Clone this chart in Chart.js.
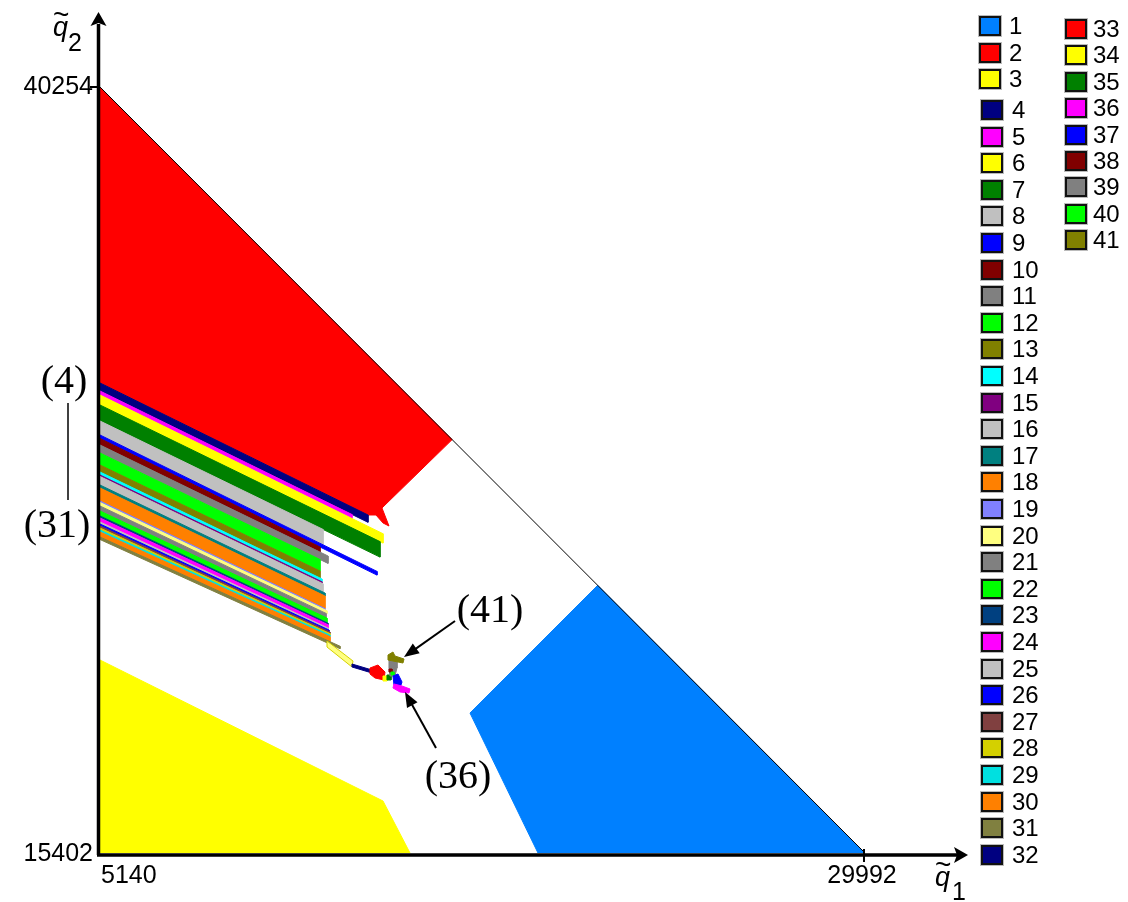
<!DOCTYPE html>
<html>
<head>
<meta charset="utf-8">
<script src="https://cdn.jsdelivr.net/npm/chart.js@4/dist/chart.umd.min.js"></script>
<style>
  body { margin: 0; background: #fff; }
  #wrap { position: relative; width: 1128px; height: 902px; }
  #legend { position: absolute; left: 0; top: 0; font-family: "Liberation Sans", Arial, sans-serif; font-size: 24px; color: #000; }
  .box { position: absolute; width: 22px; height: 20px; box-sizing: border-box; border: 2px solid #111; box-shadow: 0 0 0 1px #bbb; }
  .lab { position: absolute; height: 20px; line-height: 20px; white-space: nowrap; }
</style>
</head>
<body>
<div id="wrap">
  <canvas id="chart" width="1128" height="902"></canvas>
  <div id="legend"></div>
</div>
<script>
// axis ticks (q1 horizontal, q2 vertical)
const q1Ticks = [5140, 29992];
const q2Ticks = [15402, 40254];

// boundary q1 + q2 = 45394
const diagonal = [[5140, 40254], [29992, 15402]];

// region labels and colours (legend)
const regionLabels = ["1","2","3","4","5","6","7","8","9","10","11","12","13","14","15","16","17","18","19","20",
  "21","22","23","24","25","26","27","28","29","30","31","32","33","34","35","36","37","38","39","40","41"];
const regionColors = ["#0080FF","#FF0000","#FFFF00","#000080","#FF00FF","#FFFF00","#008000","#C0C0C0","#0000FF","#800000",
  "#808080","#00FF00","#808000","#00FFFF","#800080","#C0C0C0","#008080","#FF8000","#8080FF","#FFFF80",
  "#808080","#00FF00","#004080","#FF00FF","#C0C0C0","#0000FF","#804040","#D4D000","#00E0E0","#FF8000",
  "#808040","#000080","#FF0000","#FFFF00","#008000","#FF00FF","#0000FF","#800000","#808080","#00FF00","#808000"];

// region outlines, [q1, q2] vertices
const r1 = [[21308,24086],[29992,15402],[19369,15402],[17160,19944]];
const r2 = [[5140,40254],[16580,28814],[14301,26595],[14528,26011],[14334,26109],[14106,26368],[13846,26368],[5140,30651]];
const r3 = [[5140,21664],[14334,17089],[15211,15402],[5140,15402]];
const r4 = [[5140,30651],[13846,26368],[13846,26131],[5140,30391]];
const r5 = [[5140,30391],[13326,26384],[13326,26255],[5140,30261]];
const r6 = [[5140,30261],[14334,25761],[14334,25456],[5140,29937]];
const r7 = [[5140,29937],[14236,25505],[14236,25002],[5140,29418]];
const r8 = [[5140,29418],[12384,25901],[12384,25401],[5140,28964]];
const r9 = [[5140,28964],[14139,24538],[14139,24418],[5140,28850]];
const r10 = [[5140,28850],[12287,25330],[12287,25164],[5140,28639]];
const r11 = [[5140,28639],[12547,25038],[12547,24798],[5140,28380]];
const r12 = [[5140,28380],[12287,24924],[12287,24551],[5140,27990]];
const r13 = [[5140,27990],[12287,24551],[12287,24324],[5140,27763]];
const r14 = [[5140,27763],[12352,24292],[12352,24201],[5140,27666]];
const r15 = [[5140,27666],[12352,24201],[12352,24152],[5140,27617]];
const r16 = [[5140,27617],[12384,24136],[12384,23870],[5140,27341]];
const r17 = [[5140,27341],[12449,23837],[12449,23740],[5140,27244]];
const r18 = [[5140,27244],[12449,23740],[12449,23331],[5140,26822]];
const r19 = [[5140,26822],[12449,23331],[12449,23292],[5140,26774]];
const r20 = [[5140,26774],[12514,23260],[12514,23163],[5140,26660]];
const r20b = [[12514,22280],[13359,21631],[13326,21437],[12514,22085]];
const r21 = [[5140,26660],[12482,23176],[12482,23036],[5140,26498]];
const r22 = [[5140,26498],[12514,23023],[12514,22874],[5140,26336]];
const r23 = [[5140,26336],[12547,22858],[12547,22809],[5140,26271]];
const r24 = [[5140,26271],[12547,22809],[12547,22702],[5140,26141]];
const r25 = [[5140,26141],[12547,22702],[12547,22650],[5140,26076]];
const r26 = [[5140,26076],[12579,22637],[12579,22585],[5140,26011]];
const r27 = [[5140,26011],[12612,22572],[12612,22520],[5140,25946]];
const r28 = [[5140,25946],[12612,22520],[12612,22471],[5140,25881]];
const r29 = [[5140,25881],[12612,22471],[12612,22420],[5140,25817]];
const r30 = [[5140,25817],[12612,22420],[12612,22257],[5140,25654]];
const r31 = [[5140,25654],[12937,22111],[12937,22030],[5140,25573]];
const r32 = [[13326,21534],[13976,21339],[13976,21242],[13326,21437]];
const r33 = [[13911,21404],[14171,21501],[14399,21274],[14366,21015],[14074,21080],[13911,21209]];
const r34 = [[14334,21145],[14463,21145],[14463,20982],[14334,20982]];
const r35 = [[14463,21177],[14593,21177],[14593,21015],[14463,21015]];
const r36 = [[14691,20885],[14951,20820],[15211,20723],[15179,20593],[14886,20626],[14658,20755]];
const r37 = [[14658,21145],[14821,21209],[14951,20950],[14886,20755],[14691,20853]];
const r38 = [[14528,21371],[14626,21371],[14626,21274],[14528,21274]];
const r39 = [[14528,21664],[14788,21696],[14788,21404],[14723,21145],[14561,21145],[14528,21404]];
const r40 = [[14593,21274],[14691,21274],[14691,21177],[14593,21177]];
const r41 = [[14496,21826],[14658,21923],[14723,21793],[15016,21696],[14983,21566],[14496,21664]];

// [region number, outline]
const pieces = [
  [1, r1], [2, r2], [3, r3], [4, r4], [5, r5], [6, r6], [7, r7], [8, r8], [9, r9], [10, r10],
  [11, r11], [12, r12], [13, r13], [14, r14], [15, r15], [16, r16], [17, r17], [18, r18], [19, r19], [20, r20],
  [21, r21], [22, r22], [23, r23], [24, r24], [25, r25], [26, r26], [27, r27], [28, r28], [29, r29], [30, r30],
  [31, r31], [20, r20b], [32, r32], [33, r33], [34, r34], [35, r35], [39, r39], [38, r38], [40, r40], [37, r37],
  [36, r36], [41, r41]
];

function toPoints(poly) {
  return poly.concat([poly[0]]).map(p => ({ x: p[0], y: p[1] }));
}

let datasets = [{
  label: "q1+q2",
  data: diagonal.map(p => ({ x: p[0], y: p[1] })),
  showLine: true,
  borderColor: "#000",
  borderWidth: 1,
  pointRadius: 0,
  fill: false
}];
// first dataset ends up on top, so add regions back to front reversed
pieces.slice().reverse().forEach(([id, poly]) => {
  let col = regionColors[id - 1];
  datasets.push({
    label: regionLabels[id - 1],
    data: toPoints(poly),
    showLine: true,
    backgroundColor: col,
    borderColor: poly === r20b ? regionColors[27] : col,
    borderWidth: 1,
    pointRadius: 0,
    tension: 0,
    fill: "shape"
  });
});

function drawArrow(ctx, x1, y1, x2, y2) {
  let a = Math.atan2(y2 - y1, x2 - x1);
  let len = 15, half = 6;
  ctx.beginPath();
  ctx.moveTo(x1, y1);
  ctx.lineTo(x2 - Math.cos(a) * len * 0.8, y2 - Math.sin(a) * len * 0.8);
  ctx.stroke();
  ctx.beginPath();
  ctx.moveTo(x2, y2);
  ctx.lineTo(x2 - Math.cos(a) * len - Math.sin(a) * half, y2 - Math.sin(a) * len + Math.cos(a) * half);
  ctx.lineTo(x2 - Math.cos(a) * len + Math.sin(a) * half, y2 - Math.sin(a) * len - Math.cos(a) * half);
  ctx.closePath();
  ctx.fill();
}

// axes with arrows, end ticks, titles and the (n) annotations
const axisDecor = {
  id: "axisDecor",
  afterDraw(chart) {
    const ctx = chart.ctx;
    const xs = chart.scales.x, ys = chart.scales.y;
    const area = chart.chartArea;
    const x0 = xs.getPixelForValue(q1Ticks[0]);
    const y0 = ys.getPixelForValue(q2Ticks[0]);
    ctx.save();
    ctx.strokeStyle = "#000";
    ctx.fillStyle = "#000";

    // axis lines
    ctx.lineWidth = 3.5;
    ctx.beginPath();
    ctx.moveTo(x0 - 1.5, y0 + 2);
    ctx.lineTo(x0 - 1.5, area.top + 10);
    ctx.moveTo(x0 - 3, y0 + 2);
    ctx.lineTo(area.right - 8, y0 + 2);
    ctx.stroke();
    // arrow heads
    ctx.beginPath();
    ctx.moveTo(x0 - 1.5, area.top - 2);
    ctx.lineTo(x0 - 9.5, area.top + 12);
    ctx.lineTo(x0 - 1.5, area.top + 9);
    ctx.lineTo(x0 + 6.5, area.top + 12);
    ctx.closePath();
    ctx.fill();
    ctx.beginPath();
    ctx.moveTo(area.right + 3, y0 + 2);
    ctx.lineTo(area.right - 11, y0 - 6);
    ctx.lineTo(area.right - 8, y0 + 2);
    ctx.lineTo(area.right - 11, y0 + 10);
    ctx.closePath();
    ctx.fill();

    // end ticks
    ctx.lineWidth = 2;
    ctx.beginPath();
    let ty = ys.getPixelForValue(q2Ticks[1]);
    ctx.moveTo(x0 - 10, ty);
    ctx.lineTo(x0, ty);
    let tx = xs.getPixelForValue(q1Ticks[1]);
    ctx.moveTo(tx - 1, y0 - 4);
    ctx.lineTo(tx - 1, y0 + 9);
    ctx.stroke();

    // tick labels
    ctx.font = '25px "Liberation Sans", Arial, sans-serif';
    ctx.textBaseline = "middle";
    ctx.textAlign = "right";
    ctx.fillText(String(q2Ticks[1]), x0 - 7, ty);
    ctx.fillText(String(q2Ticks[0]), x0 - 7, y0 + 1);
    ctx.textBaseline = "top";
    ctx.textAlign = "left";
    ctx.fillText(String(q1Ticks[0]), x0 + 1, y0 + 11);
    ctx.textAlign = "center";
    ctx.fillText(String(q1Ticks[1]), tx - 3, y0 + 11);

    // axis titles  q~2 / q~1
    ctx.textBaseline = "alphabetic";
    ctx.textAlign = "left";
    ctx.font = 'italic 27px "Liberation Sans", Arial, sans-serif';
    ctx.fillText("q", x0 - 47, area.top + 22);
    ctx.fillText("q", tx + 70, y0 + 33);
    ctx.font = '28px "Liberation Sans", Arial, sans-serif';
    ctx.fillText("~", x0 - 47, area.top + 10);
    ctx.fillText("~", tx + 70, y0 + 21);
    ctx.font = '25px "Liberation Sans", Arial, sans-serif';
    ctx.fillText("2", x0 - 32, area.top + 37);
    ctx.fillText("1", tx + 87, y0 + 47);

    // annotations
    ctx.font = '40px "Liberation Serif", "Times New Roman", serif';
    ctx.textAlign = "center";
    ctx.textBaseline = "middle";
    ctx.fillText("(4)", 64, 382);
    ctx.fillText("(31)", 57, 526);
    ctx.fillText("(41)", 490, 611);
    ctx.fillText("(36)", 458, 777);
    ctx.lineWidth = 1.5;
    ctx.beginPath();
    ctx.moveTo(68, 403);
    ctx.lineTo(68, 500);
    ctx.stroke();
    ctx.lineWidth = 2;
    drawArrow(ctx, 455, 621, 404, 657);
    drawArrow(ctx, 436, 748, 405, 692);
    ctx.restore();
  }
};

new Chart(document.getElementById("chart"), {
  type: "scatter",
  data: { datasets: datasets },
  options: {
    responsive: false,
    devicePixelRatio: 1,
    animation: false,
    layout: { padding: { left: 100, right: 163, top: 14, bottom: 49 } },
    scales: {
      x: { type: "linear", min: 5140, max: 33241, display: false },
      y: { type: "linear", min: 15402, max: 42622, display: false }
    },
    plugins: {
      legend: { display: false },
      tooltip: { enabled: false }
    },
    elements: { line: { tension: 0 } }
  },
  plugins: [axisDecor]
});

// legend: 1-32 in the first column, 33-41 in the second
let legend = document.getElementById("legend");
regionLabels.forEach((lab, i) => {
  let n = i + 1, boxLeft, cy, textLeft;
  if (n <= 3) { boxLeft = 979; cy = 26 + (n - 1) * 26.5; textLeft = 1009; }
  else if (n <= 32) { boxLeft = 981; cy = 110 + (n - 4) * 26.6; textLeft = 1012; }
  else { boxLeft = 1065; cy = 29 + (n - 33) * 26.4; textLeft = 1093; }
  let box = document.createElement("div");
  box.className = "box";
  box.style.left = boxLeft + "px";
  box.style.top = (cy - 10) + "px";
  box.style.background = regionColors[i];
  legend.appendChild(box);
  let t = document.createElement("div");
  t.className = "lab";
  t.style.left = textLeft + "px";
  t.style.top = (cy - 10) + "px";
  t.textContent = lab;
  legend.appendChild(t);
});
</script>
</body>
</html>
